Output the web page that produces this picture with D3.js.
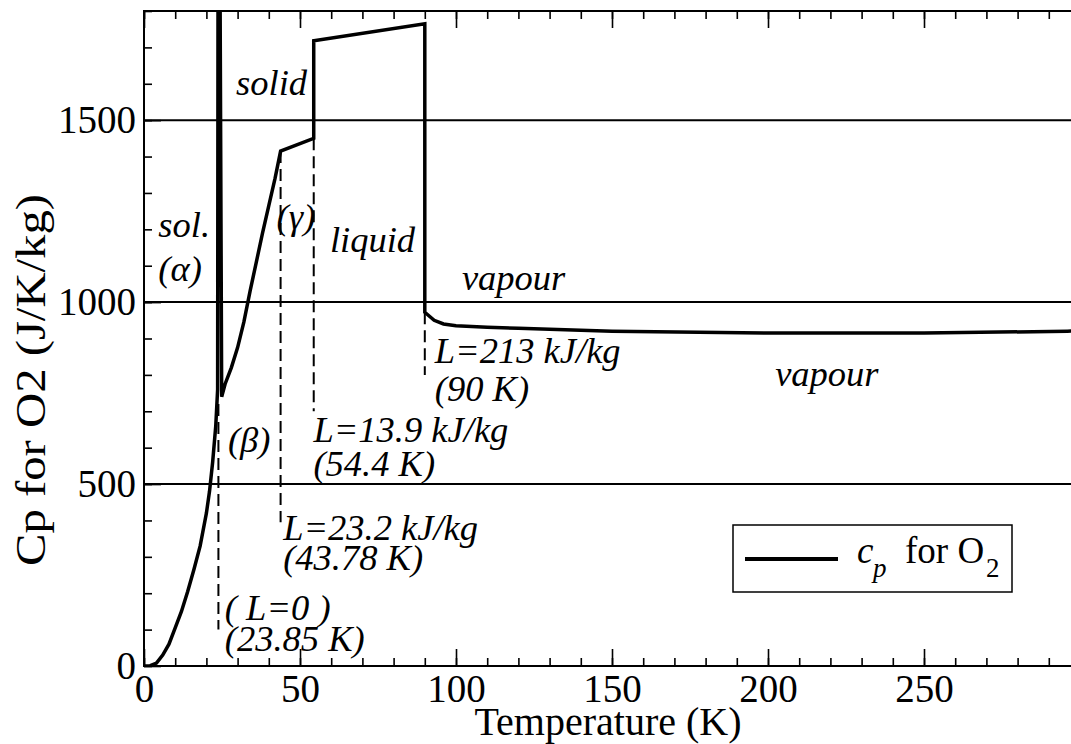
<!DOCTYPE html>
<html><head><meta charset="utf-8">
<script src="https://cdn.jsdelivr.net/npm/d3@7/dist/d3.min.js"></script>
<style>
html,body{margin:0;padding:0;background:#fff;}
svg{display:block;}
svg text{font-family:'Liberation Serif','Tinos','DejaVu Serif','Noto Serif',serif;fill:#000;}
</style></head>
<body>
<svg id="chart" width="1071" height="744"></svg>
<script>
// ---- data ----
const temperatureK = [0,2,4,6,8,10,12,14,16,18,20,21,22,23,23.6,23.85,24.9,26,28,30,32,34,36,38,40,42,43.78,54.4,54.4,90,90,93,96,100,110,120,150,200,250,296,300];
const cpValues     = [0,1,8,30,60,105,150,205,265,330,420,480,560,660,760,3000,740,775,820,875,945,1030,1110,1190,1265,1340,1415,1450,1718,1765,972,950,940,935,931,928,920,915,915,920,921];
const gridLevels = [500,1000,1500];
const transitions = [
  {T:23.85, from:720, to:100},
  {T:43.78, from:1415, to:395},
  {T:54.4, from:1450, to:700},
  {T:90, from:972, to:800}
];
const xMajor = [0,50,100,150,200,250,300];
const xLabels = [0,50,100,150,200,250];
const xMinor = d3.range(0,301,10);
const yMajor = [0,500,1000,1500];
const yMinor = d3.range(0,1801,100);
const annotations = [
  {t:"solid", T:29.5, v:1570},
  {t:"sol.", T:4.6, v:1180},
  {t:"(α)", T:4.6, v:1058},
  {t:"(γ)", T:42.5, v:1200},
  {t:"liquid", T:59.6, v:1138},
  {t:"vapour", T:101.9, v:1033},
  {t:"L=213 kJ/kg", T:93.2, v:832},
  {t:"(90 K)", T:93.2, v:727},
  {t:"vapour", T:202.3, v:770},
  {t:"(β)", T:26.9, v:588},
  {t:"L=13.9 kJ/kg", T:54.3, v:616},
  {t:"(54.4 K)", T:54.3, v:522},
  {t:"L=23.2 kJ/kg", T:44.6, v:346},
  {t:"(43.78 K)", T:44.6, v:264},
  {t:"( L=0 )", T:25.9, v:126},
  {t:"(23.85 K)", T:25.9, v:40}
];

// ---- layout ----
const svg = d3.select("#chart");
const x = d3.scaleLinear().domain([0,300]).range([144,1080]);
const y = d3.scaleLinear().domain([0,1800]).range([666,11]);
const TICKFONT = 39, TITLEFONT = 40, ANNFONT = 36.5;
const FAM = "'Liberation Serif','Tinos','DejaVu Serif','Noto Serif',serif";

svg.append("rect").attr("width",1071).attr("height",744).attr("fill","#fff");

svg.append("defs").append("clipPath").attr("id","clip")
  .append("rect").attr("x",144).attr("y",11).attr("width",936).attr("height",655);

const plot = svg.append("g").attr("clip-path","url(#clip)");

plot.selectAll("line.grid").data(gridLevels).join("line")
  .attr("class","grid")
  .attr("x1",x(0)).attr("x2",x(300))
  .attr("y1",d=>y(d)).attr("y2",d=>y(d))
  .attr("stroke","#000").attr("stroke-width",2);

plot.selectAll("line.trans").data(transitions).join("line")
  .attr("class","trans")
  .attr("x1",d=>x(d.T)).attr("x2",d=>x(d.T))
  .attr("y1",d=>y(d.from)).attr("y2",d=>y(d.to))
  .attr("stroke","#000").attr("stroke-width",2).attr("stroke-dasharray","12,6");

const pts = temperatureK.map((t,i)=>[t,cpValues[i]]);
plot.append("path").datum(pts)
  .attr("d", d3.line().x(d=>x(d[0])).y(d=>y(d[1])))
  .attr("fill","none").attr("stroke","#000").attr("stroke-width",3.5)
  .attr("stroke-linejoin","miter");

svg.append("rect").attr("x",144).attr("y",11).attr("width",936).attr("height",655)
  .attr("fill","none").attr("stroke","#000").attr("stroke-width",2);

function styleAxis(g){
  g.attr("font-family",FAM);
  g.select(".domain").remove();
  g.selectAll(".tick line").attr("stroke","#000").attr("stroke-width",1.6);
  g.selectAll("text").attr("font-size",TICKFONT).attr("font-family",FAM);
}
svg.append("g").attr("transform","translate(0,666)")
  .call(d3.axisBottom(x).tickValues(xMinor).tickSize(-8).tickFormat(""))
  .call(styleAxis);
svg.append("g").attr("transform","translate(0,666)")
  .call(d3.axisBottom(x).tickValues(xMajor).tickSize(-17).tickFormat(""))
  .call(styleAxis);
svg.append("g").attr("transform","translate(0,666)")
  .call(d3.axisBottom(x).tickValues(xLabels).tickSize(0).tickPadding(8).tickFormat(d3.format("d")))
  .call(styleAxis);
svg.append("g").attr("transform","translate(0,11)")
  .call(d3.axisTop(x).tickValues(xMinor).tickSize(-8).tickFormat(""))
  .call(styleAxis);
svg.append("g").attr("transform","translate(0,11)")
  .call(d3.axisTop(x).tickValues(xMajor).tickSize(-17).tickFormat(""))
  .call(styleAxis);
svg.append("g").attr("transform","translate(144,0)")
  .call(d3.axisLeft(y).tickValues(yMinor).tickSize(-8).tickFormat(""))
  .call(styleAxis);
svg.append("g").attr("transform","translate(144,0)")
  .call(d3.axisLeft(y).tickValues(yMajor).tickSize(-17).tickPadding(8).tickFormat(d3.format("d")))
  .call(styleAxis);

svg.append("text").attr("x",608).attr("y",735).attr("text-anchor","middle")
  .attr("font-family",FAM).attr("font-size",TITLEFONT).text("Temperature (K)");
svg.append("text").attr("transform","translate(45,380) rotate(-90)").attr("text-anchor","middle")
  .attr("font-family",FAM).attr("font-size",42)
  .attr("textLength",372).attr("lengthAdjust","spacingAndGlyphs")
  .text("Cp for O2 (J/K/kg)");

svg.selectAll("text.ann").data(annotations).join("text")
  .attr("class","ann")
  .attr("x",d=>x(d.T)).attr("y",d=>y(d.v))
  .attr("font-family",FAM).attr("font-size",ANNFONT).attr("font-style","italic").text(d=>d.t);

const lg = svg.append("g");
lg.append("rect").attr("x",733).attr("y",525).attr("width",279).attr("height",67)
  .attr("fill","#fff").attr("stroke","#000").attr("stroke-width",1.5);
lg.append("line").attr("x1",745).attr("x2",838).attr("y1",559).attr("y2",559)
  .attr("stroke","#000").attr("stroke-width",4);
const lt = lg.append("text").attr("font-family",FAM).attr("font-size",37);
lt.append("tspan").attr("x",857).attr("y",563).attr("font-style","italic").text("c");
lt.append("tspan").attr("x",873).attr("y",577).attr("font-style","italic").attr("font-size",27).text("p");
lt.append("tspan").attr("x",905).attr("y",563).text("for O");
lt.append("tspan").attr("x",986).attr("y",577).attr("font-size",27).text("2");
</script>
</body></html>
